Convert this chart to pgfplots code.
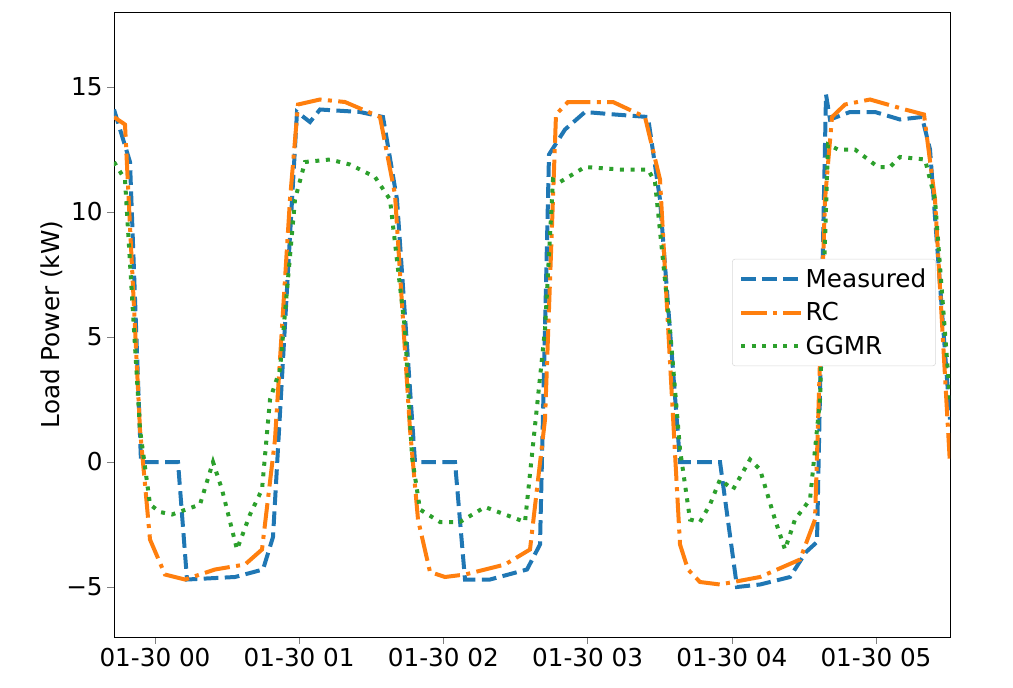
\documentclass[border=0pt]{standalone}
\usepackage{pgfplots}
\pgfplotsset{compat=1.18}
\usepackage{fontspec}
\setmainfont{DejaVu Sans}
\definecolor{c0}{HTML}{1F77B4}
\definecolor{c1}{HTML}{FF7F0E}
\definecolor{c2}{HTML}{2CA02C}
\begin{document}
\begin{tikzpicture}
\begin{axis}[
  scale only axis, width=627pt, height=468.75pt,
  xmin=114, xmax=950, ymin=-7, ymax=18,
  xtick={155,299.2,443.4,587.6,731.8,876},
  xticklabels={01-30 00,01-30 01,01-30 02,01-30 03,01-30 04,01-30 05},
  ytick={-5,0,5,10,15},
  yticklabels={−5,0,5,10,15},
  font=\fontsize{18.5}{22}\selectfont,
  /pgf/number format/assume math mode=true,
  ylabel={Load Power (kW)},
  ylabel style={yshift=-4pt},
  tick align=outside, major tick length=5pt, tick pos=left,
  legend style={at={(0.983,0.605)}, anchor=north east, draw=black!15, rounded corners=2pt, font=\fontsize{18.5}{22}\selectfont, row sep=6pt, inner sep=5pt},
  legend cell align=left,
  legend image code/.code={\draw[#1] (0pt,0pt) -- (45pt,0pt);},
  legend style={/tikz/every even column/.append style={column sep=10pt}},
]
\addplot[c0, line width=3pt, dash pattern=on 11pt off 4.8pt] coordinates {
(114,14.1)(130,12)(141,0)(178,0)(187,-4.7)(235,-4.6)(263,-4.3)(273,-3)(297,14)(310,13.6)(320,14.1)(360,14)(383,13.8)(397,10.5)(415,0)(455,0)(465,-4.7)(490,-4.7)(527,-4.3)(540,-3.3)(549,12.3)(565,13.3)(585,14)(615,13.9)(648,13.8)(660,10.5)(680,0)(720,0)(737,-5)(760,-4.9)(790,-4.6)(806,-3.6)(817,-3.2)(826,14.7)(830,13.7)(850,14)(875,14)(900,13.7)(922,13.8)(930,12.5)(950,1.7)};
\addlegendentry{Measured}
\addplot[c1, line width=3pt, dash pattern=on 19.2pt off 4.8pt on 3pt off 4.8pt] coordinates {
(114,13.8)(125,13.5)(140,1.3)(150,-3.1)(165,-4.5)(185,-4.7)(215,-4.3)(245,-4.1)(262,-3.5)(275,0.9)(290,10.5)(298,14.3)(320,14.5)(345,14.4)(380,13.8)(395,10.7)(410,1.3)(418,-2.3)(430,-4.4)(445,-4.6)(465,-4.5)(505,-4.1)(530,-3.5)(545,1.7)(556,13.9)(568,14.4)(590,14.4)(613,14.4)(645,13.8)(660,11.3)(680,-3.3)(688,-4.3)(700,-4.8)(720,-4.9)(760,-4.6)(800,-3.9)(815,-2.3)(825,10.5)(832,13.8)(845,14.3)(870,14.5)(905,14.1)(924,13.9)(935,10.5)(950,-0.1)};
\addlegendentry{RC}
\addplot[c2, line width=3pt, dash pattern=on 3pt off 4.95pt] coordinates {
(114,12)(125,11.3)(140,1.3)(150,-1.7)(160,-2.0)(172,-2.1)(200,-1.7)(213,0)(222,-1.1)(237,-3.5)(250,-2.1)(262,-1.1)(270,2.5)(280,3.7)(295,10.5)(305,12)(330,12.1)(350,11.9)(375,11.4)(390,10.5)(405,5.3)(412,0.2)(420,-1.9)(440,-2.4)(460,-2.4)(485,-1.8)(505,-2.1)(525,-2.4)(545,5.3)(553,11.3)(560,11.2)(585,11.8)(620,11.7)(648,11.7)(655,11.2)(670,5.3)(680,0.5)(690,-2.3)(700,-2.4)(710,-1.7)(720,-0.7)(733,-1.1)(750,0.1)(760,-0.3)(775,-2.3)(785,-3.5)(795,-2.3)(810,-1.5)(820,2.5)(828,12.7)(838,12.5)(855,12.5)(878,11.8)(890,11.8)(900,12.2)(925,12.1)(935,10.5)(950,2.5)};
\addlegendentry{GGMR}
\end{axis}
\path ([xshift=-85.5pt,yshift=-37.5pt]current axis.south west) rectangle ([xshift=47.25pt,yshift=9pt]current axis.north east);
\end{tikzpicture}
\end{document}
